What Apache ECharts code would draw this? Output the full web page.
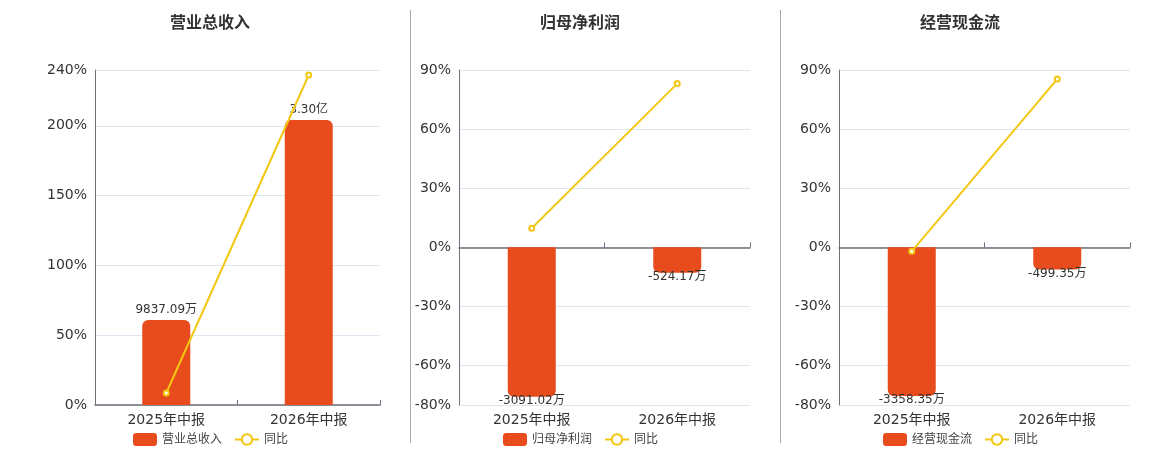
<!DOCTYPE html>
<html lang="zh">
<head>
    <meta charset="UTF-8">
    <title>营业总收入 / 归母净利润 / 经营现金流</title>
    <script src="https://cdn.jsdelivr.net/npm/echarts@6.0.0/dist/echarts.min.js"></script>
    <style>
        html, body { margin: 0; padding: 0; background: #fff; }
        #main { width: 1160px; height: 450px; }
    </style>
</head>
<body>
<div id="main"></div>
<script>
    // 数据（单位：万元 / %）
    var categories = ['2025年中报', '2026年中报'];
    var titles = ['营业总收入', '归母净利润', '经营现金流'];
    var revenue = [9837.09, 33000];
    var netProfit = [-3091.02, -524.17];
    var cashFlow = [-3358.35, -499.35];
    var revenueYoy = [8.6, 236.4];
    var netProfitYoy = [9.7, 83.1];
    var cashFlowYoy = [-2.0, 85.4];

    // 百分比轴刻度
    var revenueTicks = [0, 50, 100, 150, 200, 240];
    var lossTicks = [-80, -60, -30, 0, 30, 60, 90];

    var barValues = [revenue, netProfit, cashFlow];
    var yoyValues = [revenueYoy, netProfitYoy, cashFlowYoy];
    var pctTicks = [revenueTicks, lossTicks, lossTicks];

    var barColor = '#E84C1D';
    var lineColor = '#F3C712';

    // 每个面板的布局
    var panels = [
        { left: 95, right: 780, center: 210, legendLeft: 128, bar: [0, 38800] },
        { left: 459, right: 410, center: 580, legendLeft: 498, bar: [-3262, 3670] },
        { left: 839, right: 30, center: 960, legendLeft: 878, bar: [-3561, 4006] }
    ];

    function fmtMoney(v) {
        if (Math.abs(v) >= 10000) return (v / 10000).toFixed(2) + '亿';
        return v.toFixed(2) + '万';
    }

    var option = {
        animation: false,
        textStyle: { fontFamily: 'DejaVu Sans, Noto Sans CJK SC, sans-serif' },
        title: [], grid: [], xAxis: [], yAxis: [], legend: [], series: [],
        graphic: [
            { type: 'line', shape: { x1: 410.5, y1: 10, x2: 410.5, y2: 443 }, style: { stroke: '#aaa', lineWidth: 1 } },
            { type: 'line', shape: { x1: 780.5, y1: 10, x2: 780.5, y2: 443 }, style: { stroke: '#aaa', lineWidth: 1 } }
        ]
    };

    panels.forEach(function (p, i) {
        var ticks = pctTicks[i];
        option.title.push({
            text: titles[i], left: p.center - 5, top: 11, textAlign: 'center',
            textStyle: { fontSize: 16, fontWeight: 'bold', color: '#333' }
        });
        option.grid.push({ left: p.left, right: p.right, top: 70, bottom: 45 });

        // 标签轴（底部）
        option.xAxis.push({
            type: 'category', gridIndex: i, data: categories,
            position: 'bottom',
            axisLine: { show: false, onZero: false },
            axisTick: { show: false },
            axisLabel: { fontSize: 14, color: '#333', margin: 8 }
        });
        // 零轴线
        option.xAxis.push({
            type: 'category', gridIndex: i, data: categories,
            axisLine: { show: true, onZero: true, onZeroAxisIndex: i * 2, lineStyle: { color: '#6E7079', width: 1.5 } },
            axisTick: { show: true, lineStyle: { color: '#6E7079' } },
            axisLabel: { show: false }
        });

        option.yAxis.push({
            type: 'value', gridIndex: i,
            min: ticks[0], max: ticks[ticks.length - 1],
            axisLine: { show: true, lineStyle: { color: '#6E7079' } },
            axisTick: { show: false, customValues: ticks },
            axisLabel: { formatter: '{value}%', fontSize: 14, color: '#333', customValues: ticks },
            splitLine: { lineStyle: { color: '#E0E6F1' } }
        });
        option.yAxis.push({
            type: 'value', gridIndex: i, show: false,
            min: p.bar[0], max: p.bar[1],
            splitLine: { show: false }
        });

        option.legend.push({
            left: p.legendLeft, top: 428,
            itemWidth: 24, itemHeight: 13, itemGap: 12,
            textStyle: { fontSize: 12, color: '#444' },
            data: [{ name: titles[i], icon: 'roundRect' }, '同比']
        });

        option.series.push({
            name: titles[i], type: 'bar',
            xAxisIndex: i * 2, yAxisIndex: i * 2 + 1,
            barWidth: 48,
            itemStyle: { color: barColor },
            data: barValues[i].map(function (v) {
                var neg = v < 0;
                return {
                    value: v,
                    itemStyle: { borderRadius: neg ? [0, 0, 6, 6] : [6, 6, 0, 0] },
                    label: { position: neg ? 'bottom' : 'top', distance: neg ? -2 : 4 }
                };
            }),
            label: {
                show: true, fontSize: 12, color: '#333',
                formatter: function (d) { return fmtMoney(d.value); }
            },
            z: 2
        });
        option.series.push({
            name: '同比', type: 'line',
            xAxisIndex: i * 2, yAxisIndex: i * 2,
            data: yoyValues[i],
            symbol: 'emptyCircle', symbolSize: 5,
            itemStyle: { color: lineColor },
            lineStyle: { color: lineColor, width: 2 },
            z: 3
        });
    });

    var chart = echarts.init(document.getElementById('main'));
    chart.setOption(option);
</script>
</body>
</html>
